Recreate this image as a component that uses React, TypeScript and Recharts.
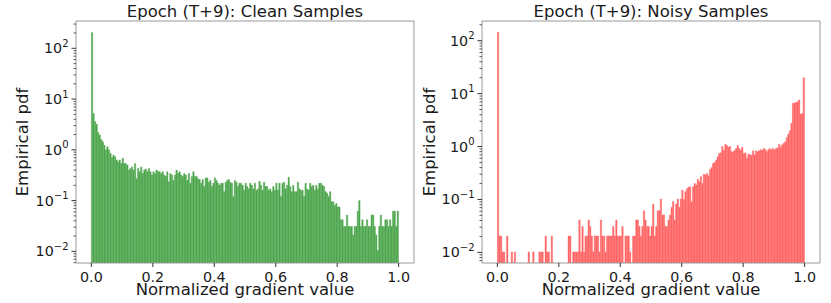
import React from 'react';
import { BarChart, Bar, XAxis, YAxis } from 'recharts';

const BINS = 200;
const binCenters = Array.from({ length: BINS }, (_, i) => (i + 0.5) / BINS);

const xTicks = [0, 0.2, 0.4, 0.6, 0.8, 1.0];
const yMajor = [0.001, 0.01, 0.1, 1, 10, 100];
const yMinorSteps = [2, 3, 4, 5, 6, 7, 8, 9];

const cleanPdf = [
  204, 5.2, 3.6, 3.2, 2.2, 1.95, 1.6, 1.44, 1.24, 1.0,
  1.15, 1.0, 0.85, 0.71, 0.79, 0.73, 0.63, 0.58, 0.63, 0.54,
  0.68, 0.54, 0.54, 0.5, 0.4, 0.43, 0.46, 0.4, 0.54, 0.27,
  0.43, 0.37, 0.46, 0.34, 0.4, 0.42, 0.37, 0.43, 0.37, 0.32,
  0.37, 0.34, 0.4, 0.38, 0.37, 0.34, 0.37, 0.32, 0.3, 0.37,
  0.235, 0.34, 0.32, 0.25, 0.32, 0.4, 0.34, 0.37, 0.32, 0.3,
  0.34, 0.32, 0.25, 0.34, 0.22, 0.3, 0.37, 0.3, 0.3, 0.27,
  0.26, 0.22, 0.26, 0.19, 0.28, 0.28, 0.23, 0.25, 0.19, 0.22,
  0.28, 0.25, 0.22, 0.2, 0.22, 0.22, 0.15, 0.23, 0.25, 0.26,
  0.23, 0.22, 0.12, 0.25, 0.23, 0.19, 0.22, 0.22, 0.2, 0.16,
  0.22, 0.19, 0.17, 0.22, 0.2, 0.17, 0.22, 0.16, 0.17, 0.24,
  0.2, 0.16, 0.23, 0.19, 0.19, 0.16, 0.17, 0.15, 0.19, 0.16,
  0.22, 0.16, 0.22, 0.12, 0.22, 0.23, 0.17, 0.2, 0.29, 0.19,
  0.15, 0.2, 0.15, 0.15, 0.23, 0.17, 0.16, 0.16, 0.12, 0.22,
  0.17, 0.16, 0.22, 0.19, 0.2, 0.16, 0.2, 0.17, 0.22, 0.22,
  0.2, 0.19, 0.15, 0.14, 0.12, 0.15, 0.095, 0.095, 0.08, 0.088,
  0.075, 0.075, 0.042, 0.042, 0.031, 0.031, 0.052, 0.031, 0.031, 0.031,
  0.021, 0.031, 0.031, 0.062, 0.1, 0.031, 0.042, 0.031, 0.031, 0.042,
  0.031, 0.031, 0.052, 0.052, 0.031, 0.021, 0.0104, 0.031, 0.052, 0.031,
  0.031, 0.042, 0.042, 0.031, 0.042, 0.031, 0.062, 0.062, 0.031, 0.062,
];

const noisyPdf = [
  145, 0.0204, 0.0204, 0.0102, 0.0102, null, 0.0204, null, null, 0.0102,
  null, 0.0102, null, null, null, null, null, null, null, null,
  0.0102, null, null, 0.0102, null, null, null, 0.0102, 0.0102, 0.0102,
  null, 0.0204, 0.0102, 0.0102, null, 0.0204, null, null, null, null,
  null, null, null, null, null, null, 0.0204, 0.0204, null, 0.0102,
  0.0102, 0.0102, 0.0102, 0.041, 0.0102, 0.031, 0.0102, 0.0204, 0.0204, 0.041,
  0.031, 0.0204, 0.0102, 0.0204, 0.0204, 0.0204, 0.0102, 0.041, 0.0204, 0.0204,
  0.0102, 0.0204, 0.0204, 0.0204, 0.0204, 0.031, 0.0204, 0.041, 0.0204, 0.0204,
  0.0204, 0.031, null, 0.0204, 0.0204, 0.0204, 0.0102, null, 0.0204, 0.0204,
  0.041, 0.041, 0.031, 0.0204, 0.031, 0.061, 0.041, 0.031, 0.031, 0.0204,
  0.031, 0.082, 0.0204, 0.031, 0.061, 0.061, 0.102, 0.051, 0.051, 0.031,
  0.031, 0.041, 0.051, 0.071, 0.092, 0.041, 0.082, 0.102, 0.071, 0.102,
  0.15, 0.1, 0.14, 0.16, 0.17, 0.174, 0.09, 0.174, 0.2, 0.187,
  0.24, 0.216, 0.27, 0.2, 0.3, 0.29, 0.31, 0.28, 0.37, 0.4,
  0.48, 0.5, 0.55, 0.64, 0.74, 0.76, 1.0, 0.85, 1.1, 1.05,
  0.97, 1.0, 0.8, 0.8, 0.85, 0.92, 1.05, 0.92, 0.85, 0.97,
  0.74, 0.76, 0.6, 0.72, 0.7, 0.68, 0.83, 0.7, 0.83, 0.8,
  0.83, 0.87, 0.85, 0.92, 0.88, 0.8, 0.87, 0.92, 0.87, 0.92,
  0.87, 0.92, 0.95, 1.1, 0.97, 1.08, 1.15, 1.23, 1.49, 1.72,
  2.0, 2.75, 6.55, 6.7, 6.8, 7.0, 7.6, 4.1, 4.2, 20,
];

const FONT = '"DejaVu Sans", sans-serif';
const INK = '#1a1a1a';
const TICK = '#333';
const SPINE = '#999';

const PLOT_W = 338;
const BAR_W = PLOT_W / 1.1 / BINS;
const X_DOMAIN: [number, number] = [-0.05, 1.05];

// major + minor log ticks that fall inside the visible range
const yTicksFor = ([lo, hi]: [number, number]) => {
  const out: number[] = [];
  yMajor.forEach((m) => {
    out.push(m);
    yMinorSteps.forEach((s) => out.push(m * s));
  });
  return out.filter((t) => t >= lo && t <= hi).sort((a, b) => a - b);
};

const LogTick = (props: any) => {
  const { x, y, payload } = props;
  const v = payload.value as number;
  const e = Math.log10(v);
  const major = Math.abs(e - Math.round(e)) < 1e-6;
  const exp = Math.round(e);
  return (
    <g>
      <line x1={x - (major ? 4.5 : 2.5)} x2={x} y1={y} y2={y} stroke={TICK} strokeWidth={major ? 1 : 0.8} />
      {major && (
        <text x={x - 7.5} y={y + 5} textAnchor="end" fontSize={14.3} fill={INK} fontFamily={FONT}>
          10
          <tspan dy={-6.5} fontSize={10}>
            {exp < 0 ? '\u2212' + Math.abs(exp) : String(exp)}
          </tspan>
        </text>
      )}
    </g>
  );
};

const ValTick = (props: any) => {
  const { x, y, payload } = props;
  return (
    <text x={x} y={y + 14.7} textAnchor="middle" fontSize={14.3} fill={INK} fontFamily={FONT}>
      {(payload.value as number).toFixed(1)}
    </text>
  );
};

type PanelProps = {
  values: (number | null)[];
  color: string;
  domain: [number, number];
  width: number;
  marginLeft: number;
  marginRight: number;
};

const Panel = ({ values, color, domain, width, marginLeft, marginRight }: PanelProps) => {
  const rows = binCenters.map((x, i) => ({ x, pdf: values[i] }));
  return (
    <BarChart
      width={width}
      height={303}
      data={rows}
      margin={{ top: 20, right: marginRight, bottom: 0, left: marginLeft }}
      barCategoryGap={0}
      barGap={0}
    >
      <XAxis
        xAxisId="val"
        dataKey="x"
        type="number"
        domain={X_DOMAIN}
        allowDataOverflow
        ticks={xTicks}
        interval={0}
        height={40}
        tickSize={4}
        tickMargin={0}
        tick={<ValTick />}
        tickLine={{ stroke: TICK }}
        axisLine={{ stroke: SPINE }}
      />
      {/* top spine */}
      <XAxis
        xAxisId="top"
        orientation="top"
        dataKey="x"
        type="number"
        domain={X_DOMAIN}
        allowDataOverflow
        height={1}
        tick={false}
        tickLine={false}
        axisLine={{ stroke: SPINE }}
      />
      <YAxis
        yAxisId="log"
        type="number"
        scale="log"
        domain={domain}
        allowDataOverflow
        ticks={yTicksFor(domain)}
        interval={0}
        width={60}
        tickSize={0}
        tickMargin={0}
        tickLine={false}
        tick={<LogTick />}
        axisLine={{ stroke: SPINE }}
      />
      {/* right spine */}
      <YAxis
        yAxisId="right"
        orientation="right"
        dataKey="pdf"
        type="number"
        scale="log"
        domain={domain}
        allowDataOverflow
        width={1}
        tick={false}
        tickLine={false}
        axisLine={{ stroke: SPINE }}
      />
      <Bar
        xAxisId="val"
        yAxisId="log"
        dataKey="pdf"
        barSize={BAR_W}
        fill={color}
        stroke={color}
        strokeWidth={0.4}
        isAnimationActive={false}
      />
    </BarChart>
  );
};

const textStyle = { fontFamily: FONT, fill: INK } as const;

export default function App() {
  return (
    <div style={{ position: 'absolute', left: 0, top: 0, width: 831, height: 303, background: '#fff' }}>
      <div style={{ position: 'absolute', left: 0, top: 0 }}>
        <Panel values={cleanPdf} color="#4fa74f" domain={[0.0059, 345]} width={415} marginLeft={16} marginRight={0} />
      </div>
      <div style={{ position: 'absolute', left: 415, top: 0 }}>
        <Panel values={noisyPdf} color="#ff6666" domain={[0.0063, 236]} width={416} marginLeft={7} marginRight={10} />
      </div>
      <svg
        width={831}
        height={303}
        style={{ position: 'absolute', left: 0, top: 0, pointerEvents: 'none' }}
      >
        <text x={245} y={16.5} textAnchor="middle" fontSize={16.5} {...textStyle}>
          Epoch (T+9): Clean Samples
        </text>
        <text x={651} y={16.5} textAnchor="middle" fontSize={16.5} {...textStyle}>
          Epoch (T+9): Noisy Samples
        </text>
        <text x={245} y={295} textAnchor="middle" fontSize={16.5} {...textStyle}>
          Normalized gradient value
        </text>
        <text x={651} y={295} textAnchor="middle" fontSize={16.5} {...textStyle}>
          Normalized gradient value
        </text>
        <text x={27.5} y={142} textAnchor="middle" fontSize={16.5} transform="rotate(-90 27.5 142)" {...textStyle}>
          Empirical pdf
        </text>
        <text x={434.5} y={142} textAnchor="middle" fontSize={16.5} transform="rotate(-90 434.5 142)" {...textStyle}>
          Empirical pdf
        </text>
      </svg>
    </div>
  );
}
